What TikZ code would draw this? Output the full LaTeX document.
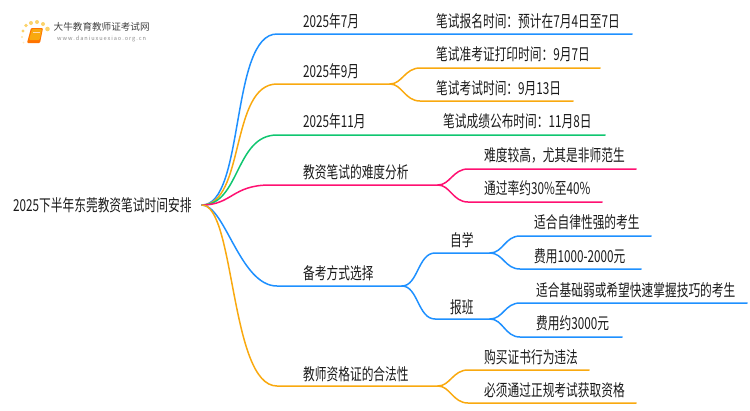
\documentclass[tikz,border=0pt]{standalone}
\usepackage{fontspec}
\setmainfont[FakeStretch=0.71]{Noto Sans CJK SC}
\newfontfamily\logofont{Noto Sans CJK SC}
\definecolor{mapblue}{HTML}{1E90FF}
\definecolor{maporange}{HTML}{F9A90F}
\definecolor{mapgreen}{HTML}{0FC670}
\definecolor{mappink}{HTML}{FF1071}
\definecolor{maptext}{HTML}{1A1A1A}
\definecolor{logodot}{HTML}{FBD36B}
\tikzset{
  label/.style={anchor=west,inner sep=0pt,font=\fontsize{16.5}{17}\selectfont,text=maptext},
  branch/.style={line width=1.5pt,line cap=round,line join=round},
}
\begin{document}
\begin{tikzpicture}[x=1pt,y=-1pt]
\useasboundingbox (0,0) rectangle (750,410);

% logo
\fill[logodot!60] (22,37) circle (1.2);
\fill[logodot] (23,31) circle (1.6);
\fill[logodot] (26,25.5) circle (1.8);
\fill[logodot] (31,23) circle (2);
\fill[logodot] (37,22) circle (2);
\fill[logodot] (43,24) circle (2);
\fill[logodot] (47.5,29) circle (2.3);
\fill[logodot!40] (23.5,42.5) circle (1);
\fill[rounded corners=1pt,orange!90!red] (31,28) -- (43,28) -- (40,43) -- (27,43) -- cycle;
\fill[rounded corners=1pt,maporange] (32,29) -- (42,29) -- (39.5,40) -- (29,40) -- cycle;
\draw[white!70!orange,line width=0.5pt] (33,32) -- (39.5,32);
\node[anchor=west,inner sep=0pt,font=\logofont\fontsize{9.6}{10}\selectfont,text=black!75] (logotitle) at (53.5,26.5) {大牛教育教师证考试网};
\node[anchor=west,inner sep=0pt,font=\logofont\fontsize{5.6}{6}\selectfont,text=black!45] (logourl) at (57,38.5) {w\,w\,w\,.\,d\,a\,n\,i\,u\,x\,u\,e\,x\,i\,a\,o\,.\,o\,r\,g\,.\,c\,n};

\node[label] (root) at (13,205) {2025下半年东莞教资笔试时间安排};
\coordinate (hub) at (202,205);

% first level
\node[label] (july) at (303,21) {2025年7月};
\coordinate (julya) at (277,34);
\coordinate (julyb) at (632,34);
\node[label] (sept) at (303,71) {2025年9月};
\coordinate (septa) at (277,84);
\coordinate (septb) at (390,84);
\node[label] (nov) at (303,121) {2025年11月};
\coordinate (nova) at (277,135);
\coordinate (novb) at (605,135);
\node[label] (hard) at (303,172) {教资笔试的难度分析};
\coordinate (harda) at (270,185);
\coordinate (hardb) at (438,185);
\node[label] (prep) at (303,273) {备考方式选择};
\coordinate (prepa) at (277,286);
\coordinate (prepb) at (402,286);
\node[label] (legal) at (303,374) {教师资格证的合法性};
\coordinate (legala) at (277,386);
\coordinate (legalb) at (438,386);

% second level
\node[label] (juneitem) at (436,21) {笔试报名时间：预计在7月4日至7日};
\node[label] (septone) at (436,54) {笔试准考证打印时间：9月7日};
\coordinate (septonea) at (420,68);
\coordinate (septoneb) at (600,68);
\node[label] (septtwo) at (436,88) {笔试考试时间：9月13日};
\coordinate (septtwoa) at (420,101);
\coordinate (septtwob) at (573,101);
\node[label] (novitem) at (443,121) {笔试成绩公布时间：11月8日};
\node[label] (hardone) at (484,155) {难度较高，尤其是非师范生};
\coordinate (hardonea) at (468,169);
\coordinate (hardoneb) at (636,169);
\node[label] (hardtwo) at (484,188) {通过率约30\%至40\%};
\coordinate (hardtwoa) at (468,202);
\coordinate (hardtwob) at (602,202);
\node[label] (self) at (450,240) {自学};
\coordinate (selfa) at (435,253);
\coordinate (selfb) at (490,253);
\node[label] (class) at (450,307) {报班};
\coordinate (classa) at (435,319);
\coordinate (classb) at (490,319);
\node[label] (legalone) at (484,357) {购买证书行为违法};
\coordinate (legalonea) at (468,370);
\coordinate (legaloneb) at (589,370);
\node[label] (legaltwo) at (484,390) {必须通过正规考试获取资格};
\coordinate (legaltwoa) at (468,403);
\coordinate (legaltwob) at (636,403);

% third level
\node[label] (selfone) at (534,222) {适合自律性强的考生};
\coordinate (selfonea) at (520,236);
\coordinate (selfoneb) at (651,236);
\node[label] (selftwo) at (534,256) {费用1000-2000元};
\coordinate (selftwoa) at (520,269);
\coordinate (selftwob) at (641,269);
\node[label] (classone) at (536,290) {适合基础弱或希望快速掌握技巧的考生};
\coordinate (classonea) at (520,303);
\coordinate (classoneb) at (747,303);
\node[label] (classtwo) at (536,323) {费用约3000元};
\coordinate (classtwoa) at (520,337);
\coordinate (classtwob) at (622,337);

% connectors
\draw[branch,mapblue] (hub) .. controls (245,205) and (230,34) .. (julya) -- (julyb);
\draw[branch,maporange] (hub) .. controls (245,205) and (230,84) .. (septa) -- (septb);
\draw[branch,maporange] (septb) .. controls (402,84) and (405,68) .. (septonea) -- (septoneb);
\draw[branch,maporange] (septb) .. controls (402,84) and (405,101) .. (septtwoa) -- (septtwob);
\draw[branch,mapgreen] (hub) .. controls (240,205) and (235,135) .. (nova) -- (novb);
\draw[branch,mappink] (hub) .. controls (232,205) and (232,185) .. (harda) -- (hardb);
\draw[branch,mappink] (hardb) .. controls (450,185) and (453,169) .. (hardonea) -- (hardoneb);
\draw[branch,mappink] (hardb) .. controls (450,185) and (453,202) .. (hardtwoa) -- (hardtwob);
\draw[branch,mapblue] (hub) .. controls (225,205) and (240,286) .. (prepa) -- (prepb);
\draw[branch,mapblue] (prepb) .. controls (418,286) and (418,253) .. (selfa) -- (selfb);
\draw[branch,mapblue] (prepb) .. controls (418,286) and (418,319) .. (classa) -- (classb);
\draw[branch,mapblue] (selfb) .. controls (503,253) and (505,236) .. (selfonea) -- (selfoneb);
\draw[branch,mapblue] (selfb) .. controls (503,253) and (505,269) .. (selftwoa) -- (selftwob);
\draw[branch,mapblue] (classb) .. controls (503,319) and (505,303) .. (classonea) -- (classoneb);
\draw[branch,mapblue] (classb) .. controls (503,319) and (505,337) .. (classtwoa) -- (classtwob);
\draw[branch,maporange] (hub) .. controls (235,205) and (230,386) .. (legala) -- (legalb);
\draw[branch,maporange] (legalb) .. controls (450,386) and (453,370) .. (legalonea) -- (legaloneb);
\draw[branch,maporange] (legalb) .. controls (450,386) and (453,403) .. (legaltwoa) -- (legaltwob);
\end{tikzpicture}
\end{document}
